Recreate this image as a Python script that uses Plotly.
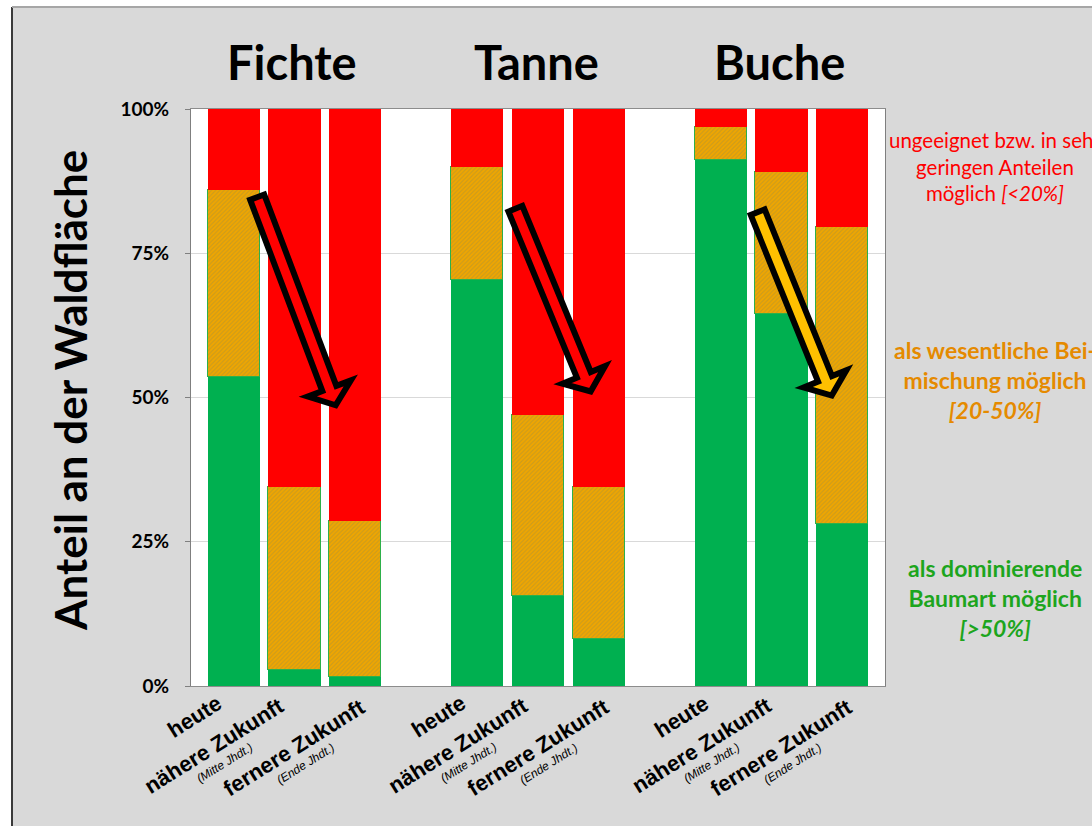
import math
import plotly.graph_objects as go

# ---------------- data ----------------
species = ["Fichte", "Tanne", "Buche"]
periods = ["heute", "nähere Zukunft", "fernere Zukunft"]
period_notes = ["", "(Mitte Jhdt.)", "(Ende Jhdt.)"]

# shares in % of forest area (per bar: Fichte x3, Tanne x3, Buche x3)
green_dominant = [53.6, 2.8, 1.6, 70.4, 15.6, 8.1, 91.1, 64.5, 28.1]
orange_admix = [32.4, 31.7, 27.0, 19.5, 31.4, 26.4, 5.7, 24.5, 51.5]
red_unsuitable = [round(100 - g - o, 1) for g, o in zip(green_dominant, orange_admix)]

y_ticks = [0, 25, 50, 75, 100]
y_ticktext = ["0%", "25%", "50%", "75%", "100%"]

legend_texts = [
    "ungeeignet bzw. in sehr<br>geringen Anteilen<br>möglich <i>[&lt;20%]</i>",
    "<b>als wesentliche Bei-<br>mischung möglich<br><i>[20-50%]</i></b>",
    "<b>als dominierende<br>Baumart möglich<br><i>[&gt;50%]</i></b>",
]
legend_colors = ["#FF0000", "#E58A00", "#1DA51D"]

# trend arrows (data coords: tail, head) per species
arrow_tail = [(0.37, 85.2), (4.61, 83.2), (8.59, 82.6)]
arrow_head = [(1.70, 48.0), (5.89, 50.4), (9.85, 49.7)]
arrow_fill = ["#FF0000", "#FF0000", "#FFC000"]

# ---------------- layout geometry ----------------
W, H = 1092, 826
ML, MR, MT, MB = 191, 207, 109, 140
XR = [-0.7, 10.7]
YR = [0, 100]
PW, PH = W - ML - MR, H - MT - MB

x_pos = []
for gi in range(len(species)):
    for pi in range(len(periods)):
        x_pos.append(gi * 4 + pi)

def d2px(x, y):
    return (ML + (x - XR[0]) / (XR[1] - XR[0]) * PW,
            MT + PH - (y - YR[0]) / (YR[1] - YR[0]) * PH)

def px2d(px, py):
    return (XR[0] + (px - ML) / PW * (XR[1] - XR[0]),
            YR[0] + (MT + PH - py) / PH * (YR[1] - YR[0]))

fig = go.Figure()
fig.add_trace(go.Bar(x=x_pos, y=green_dominant, marker=dict(color="#00B050", line=dict(width=0)),
                     width=0.855, showlegend=False, hoverinfo="skip"))
fig.add_trace(go.Bar(x=x_pos, y=orange_admix,
                     marker=dict(color="#F0A600", line=dict(color="#2DB04A", width=1),
                                 pattern=dict(shape="/", fgcolor="#A8923A", size=3, solidity=0.4,
                                              fillmode="overlay")),
                     width=0.855, showlegend=False, hoverinfo="skip"))
fig.add_trace(go.Bar(x=x_pos, y=red_unsuitable, marker=dict(color="#FF0000", line=dict(width=0)),
                     width=0.855, showlegend=False, hoverinfo="skip"))

shapes = []
# arrows
for (tx, ty), (hx, hy), col in zip(arrow_tail, arrow_head, arrow_fill):
    Tx, Ty = d2px(tx, ty)
    Px, Py = d2px(hx, hy)
    dx, dy = Px - Tx, Py - Ty
    ln = math.hypot(dx, dy)
    ux, uy = dx / ln, dy / ln
    nx, ny = -uy, ux
    sw, hw = 7.5, 23
    t0 = (Tx + 3 * ux, Ty + 3 * uy)
    base = (Px - 22 * ux, Py - 22 * uy)
    tip = (Px - 4 * ux, Py - 4 * uy)
    pts = [
        (t0[0] + nx * sw, t0[1] + ny * sw),
        (base[0] + nx * sw, base[1] + ny * sw),
        (base[0] + nx * hw, base[1] + ny * hw),
        tip,
        (base[0] - nx * hw, base[1] - ny * hw),
        (base[0] - nx * sw, base[1] - ny * sw),
        (t0[0] - nx * sw, t0[1] - ny * sw),
    ]
    dpts = [px2d(a, b) for a, b in pts]
    path = "M " + " L ".join(f"{a:.4f},{b:.4f}" for a, b in dpts) + " Z"
    shapes.append(dict(type="path", xref="x", yref="y", path=path, fillcolor=col,
                       line=dict(color="black", width=6), layer="above"))

# outer white frame strips + border lines (outside the plot area)
def pxp(px):
    return (px - ML) / PW
def pyp(py):
    return (MT + PH - py) / PH

shapes.append(dict(type="rect", xref="paper", yref="paper", x0=pxp(-5), x1=pxp(12), y0=pyp(H + 5), y1=pyp(-5),
                   fillcolor="white", line=dict(width=0), layer="below"))
shapes.append(dict(type="rect", xref="paper", yref="paper", x0=pxp(-5), x1=pxp(W + 5), y0=pyp(7), y1=pyp(-5),
                   fillcolor="white", line=dict(width=0), layer="below"))
shapes.append(dict(type="line", xref="paper", yref="paper", x0=pxp(12), x1=pxp(12), y0=pyp(7), y1=pyp(H + 5),
                   line=dict(color="#3A3A3A", width=2), layer="below"))
shapes.append(dict(type="line", xref="paper", yref="paper", x0=pxp(12), x1=pxp(W + 5), y0=pyp(7), y1=pyp(7),
                   line=dict(color="#A6A6A6", width=2), layer="below"))

annotations = []
# species titles
for gi, sp in enumerate(species):
    annotations.append(dict(text=sp, x=gi * 4 + 1, y=pyp(62), xref="x", yref="paper", xshift=-2,
                            xanchor="center", yanchor="middle", showarrow=False,
                            font=dict(family="Lato", size=47, color="black", weight="bold")))
# y axis title
annotations.append(dict(text="Anteil an der Waldfläche", x=pxp(70), y=pyp(391), xref="paper", yref="paper",
                        textangle=-90, xanchor="center", yanchor="middle", showarrow=False,
                        font=dict(family="Lato", size=44, color="black", weight="bold")))
# category labels
main_off = [(-39, 716), (-80, 745), (-61, 747)]
note_off = [None, (-70, 763), (-50, 764)]
for i, xp in enumerate(x_pos):
    pi = i % 3
    dxm, ym = main_off[pi]
    annotations.append(dict(text="<b>" + periods[pi] + "</b>", x=xp, y=pyp(ym), xref="x", yref="paper",
                            xshift=dxm, textangle=-32, xanchor="center", yanchor="middle", showarrow=False,
                            font=dict(family="Liberation Sans, Arial", size=22, color="black")))
    if period_notes[pi]:
        dxn, yn = note_off[pi]
        annotations.append(dict(text="<i>" + period_notes[pi] + "</i>", x=xp, y=pyp(yn), xref="x", yref="paper",
                                xshift=dxn, textangle=-32, xanchor="center", yanchor="middle", showarrow=False,
                                font=dict(family="Liberation Sans, Arial", size=12, color="black")))
# right-hand explanation texts
for txt, col, yc, fs in zip(legend_texts, legend_colors, [166, 380, 598], [20.5, 23, 23]):
    annotations.append(dict(text=txt, x=pxp(995), y=pyp(yc), xref="paper", yref="paper",
                            xanchor="center", yanchor="middle", align="center", showarrow=False,
                            font=dict(family="Lato", size=fs, color=col)))

fig.update_layout(
    width=W, height=H, autosize=False,
    margin=dict(l=ML, r=MR, t=MT, b=MB, pad=0),
    paper_bgcolor="#D9D9D9", plot_bgcolor="white",
    barmode="stack", bargap=0,
    shapes=shapes, annotations=annotations,
    showlegend=False,
)
fig.update_xaxes(range=XR, showticklabels=False, ticks="", showgrid=False, zeroline=False,
                 showline=True, linecolor="#8C8C8C", linewidth=1, mirror=True)
fig.update_yaxes(range=YR, tickvals=y_ticks, ticktext=y_ticktext, ticks="outside", ticklen=5,
                 tickcolor="#7F7F7F", showgrid=True, gridcolor="#D9D9D9", gridwidth=1, zeroline=False,
                 showline=True, linecolor="#7F7F7F", linewidth=1, mirror=True, ticklabelstandoff=12,
                 tickfont=dict(family="Lato", size=19, color="black", weight="bold"))

fig.write_html("out.html")
